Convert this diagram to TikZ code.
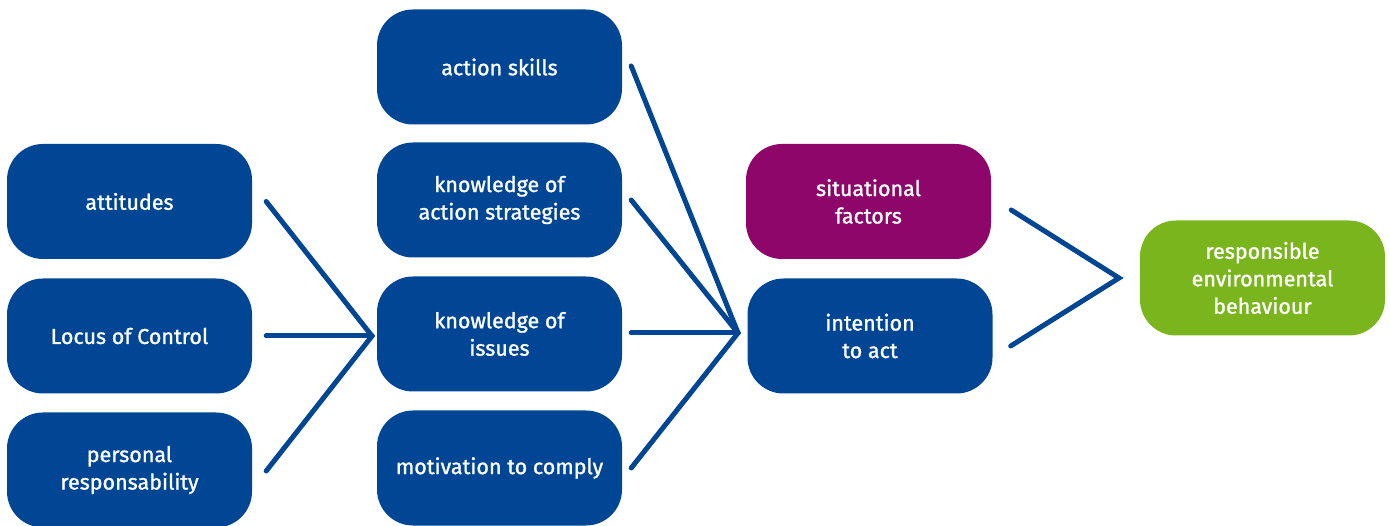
\documentclass[tikz,border=0pt]{standalone}
\usepackage{fontspec}
\setmainfont{Fira Sans}[FakeBold=1.2]
\definecolor{eblue}{RGB}{0,70,148}
\definecolor{epurple}{RGB}{142,6,106}
\definecolor{egreen}{RGB}{122,181,30}
\begin{document}
\begin{tikzpicture}[x=1pt,y=-1pt,
  box/.style={rounded corners=36pt, minimum width=245pt, minimum height=115pt,
    text=white, align=center, inner sep=0pt, font=\fontsize{21.5}{27.5}\selectfont},
  bbox/.style={box, fill=eblue},
  pbox/.style={box, fill=epurple},
  gbox/.style={box, fill=egreen},
  conn/.style={draw=eblue, line width=5pt, line cap=round, line join=miter}]
\useasboundingbox (0,0) rectangle (1390,526);
% left column
\node[bbox] (att) at (129.5,201.5) {attitudes};
\node[bbox] (loc) at (129.5,336) {Locus of Control};
\node[bbox] (per) at (129.5,470) {personal\\responsability};
% middle column
\node[bbox] (ask) at (499.5,67) {action skills};
\node[bbox] (kas) at (499.5,200) {knowledge of\\action strategies};
\node[bbox] (iss) at (499.5,334) {knowledge of\\issues};
\node[bbox] (mot) at (499.5,468) {motivation to comply};
% right
\node[pbox] (sit) at (868.5,201.5) {situational\\factors};
\node[bbox] (int) at (870,336) {intention\\to act};
\node[gbox] (reb) at (1262.5,278) {responsible\\environmental\\behaviour};
% convergence points
\coordinate (c1) at (372,336);
\coordinate (c2) at (738,333);
\coordinate (c3) at (1119,278);
% connectors
\draw[conn] ([shift={(14,0)}]att.east) -- (c1) -- ([shift={(14,1)}]per.east);
\draw[conn] ([shift={(14,0)}]loc.east) -- (c1);
\draw[conn] ([shift={(9,-1)}]ask.east) -- (c2) -- ([shift={(9,0)}]mot.east);
\draw[conn] ([shift={(9,0)}]kas.east) -- (c2);
\draw[conn] ([shift={(9,-1)}]iss.east) -- (c2);
\draw[conn] ([shift={(20,8.5)}]sit.east) -- (c3) -- ([shift={(18,10)}]int.east);
\end{tikzpicture}
\end{document}
